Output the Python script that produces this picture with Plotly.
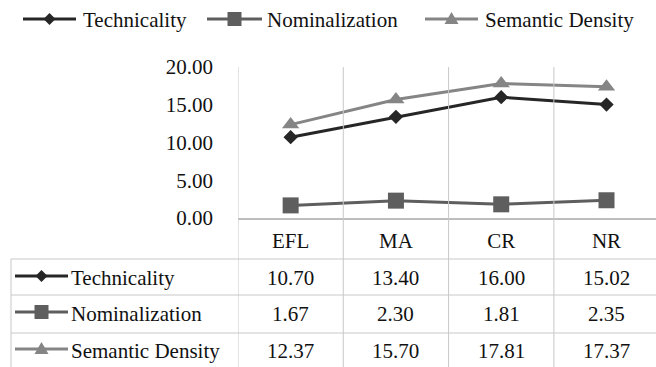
import plotly.graph_objects as go

# Data
categories = ["EFL", "MA", "CR", "NR"]
series_names = ["Technicality", "Nominalization", "Semantic Density"]
technicality = [10.70, 13.40, 16.00, 15.02]
nominalization = [1.67, 2.30, 1.81, 2.35]
semantic_density = [12.37, 15.70, 17.81, 17.37]
y_ticks = [0, 5, 10, 15, 20]

series_values = [technicality, nominalization, semantic_density]
colors = ["#262626", "#5e5e5e", "#858585"]
symbols = ["diamond", "square", "triangle-up"]
marker_sizes = [11, 16, 15]

FONT = "Liberation Serif, Times New Roman, serif"
FS = 21
TXT = "#111111"
W, H = 656, 367
ML, MR, MT, MB = 238, 0, 67, 149
PW, PH = W - ML - MR, H - MT - MB


def px(x):
    return (x - ML) / PW


def py(y):
    return (H - MB - y) / PH


def tfont():
    return dict(family=FONT, size=FS, color=TXT)


fig = go.Figure()
for name, vals, col, sym, ms in zip(series_names, series_values, colors, symbols, marker_sizes):
    fig.add_trace(go.Scatter(
        x=categories, y=vals, name=name, mode="lines+markers",
        line=dict(color=col, width=3),
        marker=dict(symbol=sym, size=ms, color=col),
        showlegend=False, cliponaxis=False,
    ))

shapes = []
annotations = []
grid = "#c8c8c8"

# column separators of the category axis / data table
for i in range(len(categories) + 1):
    shapes.append(dict(type="line", xref="x", yref="paper", x0=i - 0.5, x1=i - 0.5,
                       y0=1, y1=py(H + 2), line=dict(color=grid, width=1)))

# data table rows
row_edges = [259, 295, 333]
for ry in row_edges:
    shapes.append(dict(type="line", xref="paper", yref="paper", x0=px(11), x1=px(W + 2),
                       y0=py(ry), y1=py(ry), line=dict(color=grid, width=1)))
shapes.append(dict(type="line", xref="paper", yref="paper", x0=px(11), x1=px(11),
                   y0=py(259), y1=py(H + 2), line=dict(color=grid, width=1)))


def key_glyph(x0, x1, yc, idx):
    """Line-with-marker key used in the legend and the table row headers."""
    col = colors[idx]
    out = [dict(type="line", xref="paper", yref="paper", x0=px(x0), x1=px(x1),
                y0=py(yc), y1=py(yc), line=dict(color=col, width=3))]
    cx = (x0 + x1) / 2
    if symbols[idx] == "diamond":
        r = 6
        path = (f"M {px(cx - r)},{py(yc)} L {px(cx)},{py(yc - r)} "
                f"L {px(cx + r)},{py(yc)} L {px(cx)},{py(yc + r)} Z")
    elif symbols[idx] == "square":
        r = 7
        path = (f"M {px(cx - r)},{py(yc - r)} L {px(cx + r)},{py(yc - r)} "
                f"L {px(cx + r)},{py(yc + r)} L {px(cx - r)},{py(yc + r)} Z")
    else:
        r = 7
        path = (f"M {px(cx - r)},{py(yc + 5)} L {px(cx + r)},{py(yc + 5)} "
                f"L {px(cx)},{py(yc - 7)} Z")
    out.append(dict(type="path", xref="paper", yref="paper", path=path,
                    fillcolor=col, line=dict(color=col, width=0)))
    return out


# legend across the top
legend_keys = [(23, 76, 81), (207, 262, 265), (425, 478, 483)]
for i, (x0, x1, tx) in enumerate(legend_keys):
    shapes += key_glyph(x0, x1, 19, i)
    annotations.append(dict(text=series_names[i], xref="paper", yref="paper",
                            x=px(tx), y=py(20), xanchor="left", yanchor="middle",
                            showarrow=False, font=tfont()))

# data table body
row_centers = [278, 314, 351]
for i, yc in enumerate(row_centers):
    shapes += key_glyph(15, 68, yc - 2, i)
    annotations.append(dict(text=series_names[i], xref="paper", yref="paper",
                            x=px(69), y=py(yc), xanchor="left", yanchor="middle",
                            showarrow=False, font=tfont()))
    for cat, v in zip(categories, series_values[i]):
        annotations.append(dict(text=f"{v:.2f}", xref="x", yref="paper",
                                x=cat, y=py(yc), xanchor="center", yanchor="middle",
                                showarrow=False, font=tfont()))

fig.update_layout(
    width=W, height=H,
    margin=dict(l=ML, r=MR, t=MT, b=MB, autoexpand=False),
    paper_bgcolor="white", plot_bgcolor="white",
    font=tfont(),
    shapes=shapes, annotations=annotations,
    xaxis=dict(type="category", range=[-0.5, 3.47], showgrid=False, zeroline=False,
               showline=True, linecolor="#bdbdbd", linewidth=1.5, ticks="",
               ticklabelstandoff=3, tickfont=tfont()),
    yaxis=dict(range=[0, 20], tickvals=y_ticks, tickformat=".2f", showgrid=False,
               zeroline=False, showline=False, ticks="", ticklabelstandoff=24,
               tickfont=tfont()),
)

fig.write_html("out.html")
